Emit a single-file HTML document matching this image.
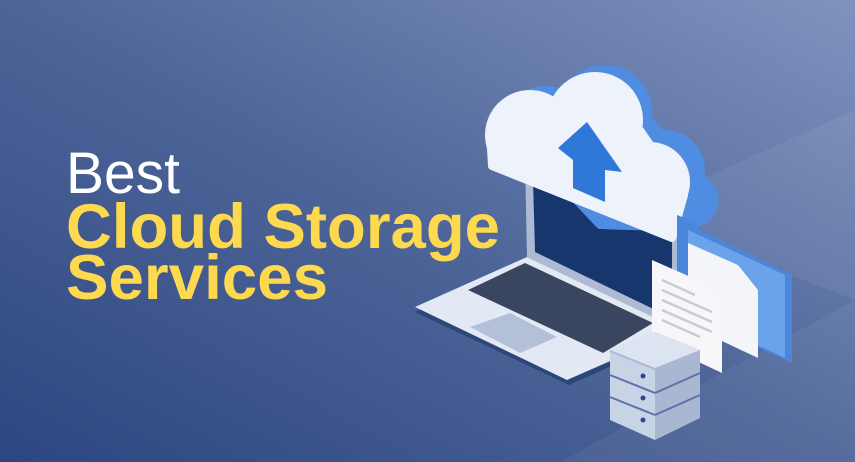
<!DOCTYPE html>
<html><head><meta charset="utf-8"><style>html,body{margin:0;padding:0;overflow:hidden}svg{display:block}</style></head>
<body>
<svg width="855" height="462" viewBox="0 0 855 462" xmlns="http://www.w3.org/2000/svg">
<defs>
<linearGradient id="bg" x1="0" y1="1" x2="1" y2="0">
<stop offset="0" stop-color="#2d4680"/><stop offset="0.5" stop-color="#4d6598"/><stop offset="1" stop-color="#8093bf"/>
</linearGradient>
</defs>
<rect width="855" height="462" fill="url(#bg)"/>
<polygon points="700,180 855,110 855,300 700,240" fill="#ffffff" opacity="0.06"/>
<polygon points="560,462 855,300 855,462" fill="#ffffff" opacity="0.05"/>
<text x="66" y="193" font-family="Liberation Sans, sans-serif" font-size="58" fill="#fff" textLength="114" lengthAdjust="spacingAndGlyphs">Best</text>
<text x="66" y="248" font-family="Liberation Sans, sans-serif" font-weight="bold" font-size="63" fill="#fcd94e" textLength="434" lengthAdjust="spacingAndGlyphs">Cloud Storage</text>
<text x="66" y="299" font-family="Liberation Sans, sans-serif" font-weight="bold" font-size="63" fill="#fcd94e" textLength="262" lengthAdjust="spacingAndGlyphs">Services</text>
<!-- laptop base -->
<polygon points="415,312 527,262 681,335 569,385" fill="#2c4677"/>
<polygon points="415,307 527,257 681,330 567,380" fill="#e3e9f4"/>
<polygon points="468,290 525,263 653,323 603,353" fill="#3a4560"/>
<polygon points="470,327 510,313 557,337 520,353" fill="#b3c0d8"/>
<!-- lid -->
<polygon points="525,160 527,257 680,330 680,230" fill="#aebad3"/>
<polygon points="533,180 535,252 672,318 672,240" fill="#17366e"/>
<!-- cloud -->
<g fill="#4f8de2" stroke="#4f8de2" stroke-width="8" stroke-linejoin="round">
<circle cx="545" cy="128" r="38"/><circle cx="605" cy="112" r="43"/><circle cx="665" cy="170" r="36"/><circle cx="690" cy="200" r="24"/>
<polygon points="510,130 640,110 715,195 690,228 600,225"/>
</g>
<g fill="#eef2fa" stroke="#eef2fa" stroke-width="8" stroke-linejoin="round">
<circle cx="530" cy="135" r="41"/><circle cx="595" cy="120" r="44"/><circle cx="650" cy="182" r="36"/>
<polygon points="490,132 540,105 640,130 684,195 672,238 492,166"/>
</g>
<polygon points="587,122 558,148 573,160 573,188 605,202 605,170 622,172" fill="#2f78d8"/>
<!-- folder -->
<polygon points="677,215 695,222 700,230 792,275 792,363 677,310" fill="#4a86dc"/>
<polygon points="688,230 785,275 785,358 688,312" fill="#6aa3ea"/>
<!-- docs -->
<polygon points="688,243 738,265 758,290 758,358 688,325" fill="#f4f5f8"/>
<polygon points="652,260 702,282 722,308 722,373 652,340" fill="#f7f7f9"/>
<g stroke="#c8ccd4" stroke-width="2.5">
<line x1="662" y1="280" x2="695" y2="295"/><line x1="662" y1="290" x2="712" y2="312"/><line x1="662" y1="300" x2="712" y2="322"/><line x1="662" y1="310" x2="712" y2="332"/><line x1="662" y1="320" x2="700" y2="337"/>
</g>
<!-- server -->
<polygon points="610,350 655,332 700,350 700,418 655,440 610,418" fill="#a9b7d2"/>
<polygon points="610,350 655,332 700,350 655,368" fill="#dde4f1"/>
<polygon points="610,352 655,370 655,440 610,420" fill="#c9d3e6"/>
<g stroke="#5a73a8" stroke-width="2"><line x1="610" y1="375" x2="655" y2="393"/><line x1="610" y1="397" x2="655" y2="415"/><line x1="655" y1="393" x2="700" y2="373"/><line x1="655" y1="415" x2="700" y2="395"/></g>
<g fill="#2a4b8a"><circle cx="643" cy="376" r="2.5"/><circle cx="643" cy="398" r="2.5"/><circle cx="643" cy="420" r="2.5"/></g>
</svg>
</body></html>
